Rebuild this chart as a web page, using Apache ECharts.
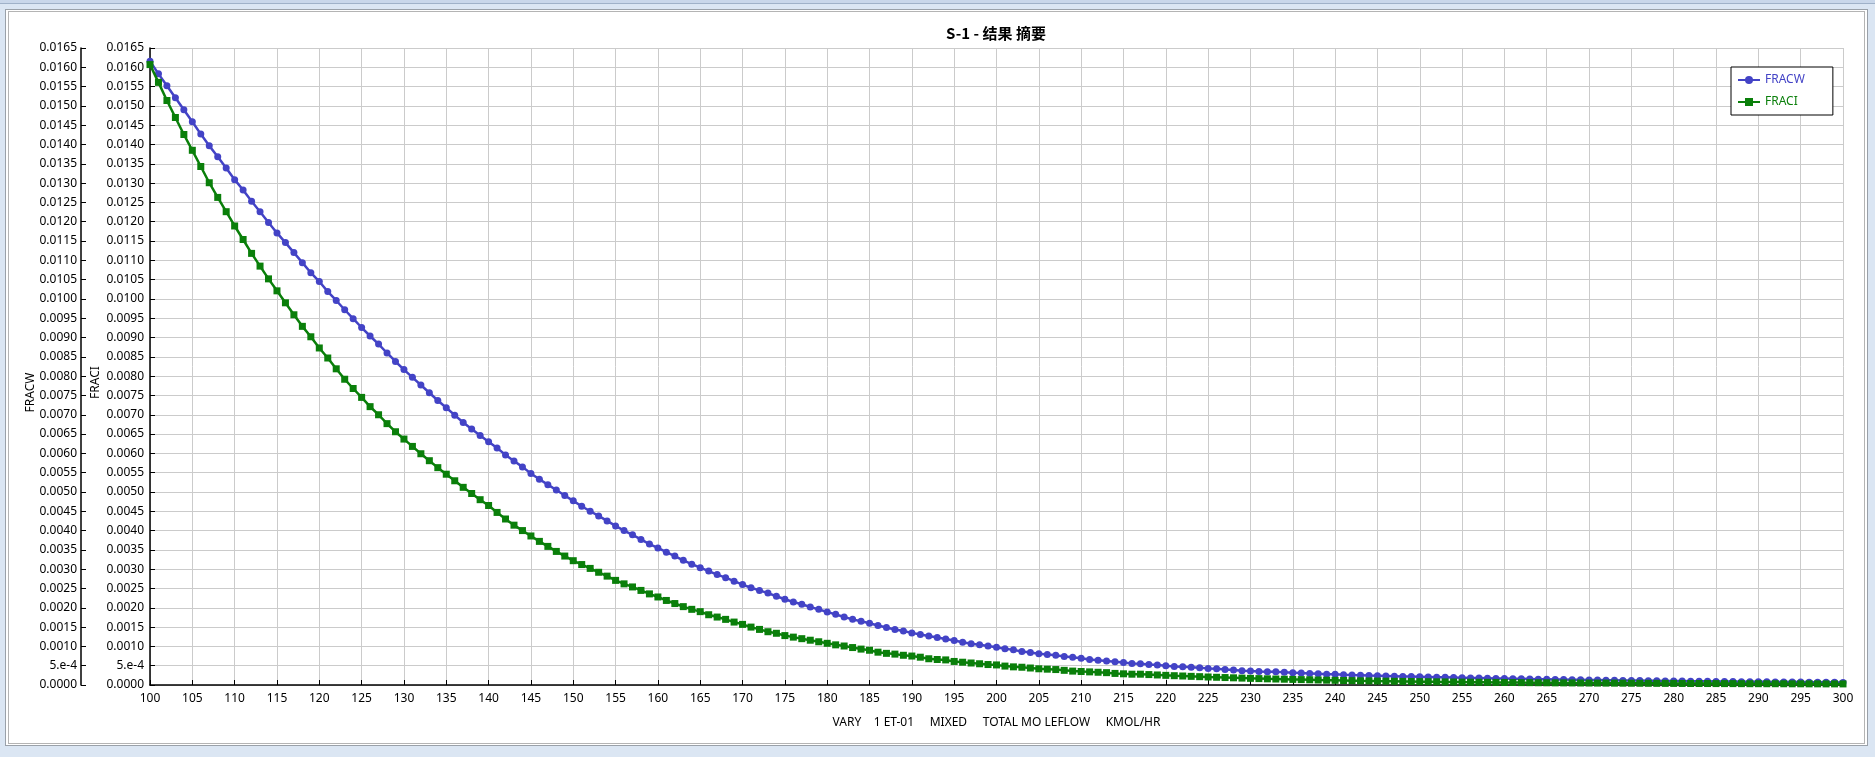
<!DOCTYPE html>
<html>
<head>
<meta charset="utf-8">
<script src="https://cdn.jsdelivr.net/npm/echarts@6/dist/echarts.min.js"></script>
<style>
html,body{margin:0;padding:0;width:1875px;height:757px;overflow:hidden;background:#dbe6f3;}
#topbar{position:absolute;left:0;top:0;width:1875px;height:3px;background:#c9d7ea;border-bottom:1px solid #9fb1c8;}
#frame{position:absolute;left:5px;top:9px;width:1861px;height:735px;border:1px solid #9aa1a9;background:#fff;}
#inner{position:absolute;left:8px;top:11px;width:1855px;height:731px;border:1px solid #b4b4b4;background:#fff;}
#chart{position:absolute;left:0;top:0;width:1875px;height:757px;}
</style>
</head>
<body>
<div id="topbar"></div>
<div id="frame"></div>
<div id="inner"></div>
<div id="chart"></div>
<script>
const xValues = Array.from({length: 201}, (_, i) => 100 + i);

const fracW = [
0.01616,0.01583,0.01552,0.01521,0.01490,0.01459,0.01427,0.01397,0.01368,0.01339,
0.01309,0.01282,0.01253,0.01226,0.01198,0.01171,0.01146,0.01120,0.01094,0.01068,
0.01045,0.01019,0.00996,0.00972,0.00949,0.00926,0.00904,0.00883,0.00860,0.00838,
0.00817,0.00797,0.00777,0.00757,0.00737,0.00718,0.00699,0.00680,0.00663,0.00646,
0.00630,0.00614,0.00596,0.00580,0.00565,0.00548,0.00533,0.00519,0.00505,0.00491,
0.00477,0.00463,0.00450,0.00438,0.00425,0.00412,0.00400,0.00389,0.00377,0.00365,
0.00355,0.00344,0.00334,0.00323,0.00313,0.00304,0.00295,0.00286,0.00278,0.00269,
0.00260,0.00252,0.00245,0.00238,0.00230,0.00222,0.00215,0.00209,0.00202,0.00196,
0.00189,0.00183,0.00176,0.00170,0.00165,0.00160,0.00154,0.00149,0.00144,0.00140,
0.00135,0.00131,0.00127,0.00123,0.00119,0.00115,0.00111,0.00107,0.00104,0.00101,
0.00098,0.00094,0.00091,0.00087,0.00084,0.00081,0.00079,0.00077,0.00074,0.00072,
0.00069,0.00066,0.00064,0.00062,0.00060,0.00058,0.00056,0.00055,0.00053,0.00052,
0.00050,0.00048,0.00047,0.00046,0.00045,0.00043,0.00042,0.00040,0.00039,0.00037,
0.00036,0.00035,0.00034,0.00034,0.00033,0.00032,0.00031,0.00030,0.00029,0.00028,
0.000276,0.000267,0.000260,0.000254,0.000247,0.000241,0.000235,0.000229,0.000223,0.000218,
0.000213,0.000208,0.000203,0.000198,0.000193,0.000188,0.000183,0.000179,0.000175,0.000171,
0.000167,0.000163,0.000159,0.000155,0.000151,0.000148,0.000144,0.000141,0.000137,0.000134,
0.000131,0.000128,0.000125,0.000122,0.000119,0.000116,0.000114,0.000111,0.000109,0.000106,
0.000104,0.000102,0.000099,0.000097,0.000095,0.000093,0.000091,0.000089,0.000087,0.000085,
0.000083,0.000081,0.000080,0.000078,0.000076,0.000075,0.000073,0.000072,0.000070,0.000069,
0.000067
];

const fracI = [
0.01607,0.01561,0.01514,0.01470,0.01426,0.01385,0.01343,0.01301,0.01263,0.01226,
0.01189,0.01154,0.01118,0.01085,0.01052,0.01021,0.00990,0.00959,0.00929,0.00902,
0.00873,0.00847,0.00819,0.00792,0.00768,0.00745,0.00721,0.00700,0.00677,0.00656,
0.00637,0.00618,0.00599,0.00581,0.00563,0.00546,0.00529,0.00512,0.00496,0.00480,
0.00465,0.00447,0.00430,0.00414,0.00400,0.00386,0.00372,0.00359,0.00346,0.00334,
0.00322,0.00312,0.00302,0.00292,0.00282,0.00271,0.00262,0.00254,0.00245,0.00236,
0.00228,0.00219,0.00211,0.00203,0.00196,0.00190,0.00182,0.00176,0.00170,0.00163,
0.00157,0.00150,0.00144,0.00138,0.00134,0.00128,0.00124,0.00120,0.00116,0.00112,
0.00108,0.00104,0.00101,0.00097,0.00093,0.00090,0.00085,0.00082,0.00080,0.00077,
0.00075,0.00072,0.00068,0.00066,0.00065,0.00061,0.00059,0.00057,0.00055,0.00053,
0.00052,0.00049,0.00047,0.00046,0.00044,0.00042,0.00041,0.00040,0.00038,0.00036,
0.00035,0.00034,0.00033,0.00032,0.00030,0.00029,0.00028,0.00028,0.00027,0.00026,
0.00025,0.000241,0.000233,0.000224,0.000216,0.000207,0.000200,0.000193,0.000186,0.000179,
0.000172,0.000166,0.000160,0.000155,0.000150,0.000145,0.000140,0.000135,0.000130,0.000125,
0.000121,0.000117,0.000113,0.000109,0.000106,0.000102,0.000099,0.000096,0.000093,0.000090,
0.000087,0.000085,0.000082,0.000080,0.000078,0.000075,0.000073,0.000071,0.000069,0.000067,
0.000066,0.000064,0.000062,0.000061,0.000059,0.000058,0.000056,0.000055,0.000054,0.000052,
0.000051,0.000050,0.000049,0.000048,0.000047,0.000046,0.000045,0.000044,0.000043,0.000042,
0.000041,0.000040,0.000039,0.000039,0.000038,0.000037,0.000036,0.000036,0.000035,0.000034,
0.000034,0.000033,0.000033,0.000032,0.000031,0.000031,0.000030,0.000030,0.000029,0.000029,
0.000028
];

const yTickLabels = ['0.0000','5.e-4','0.0010','0.0015','0.0020','0.0025','0.0030','0.0035','0.0040','0.0045',
'0.0050','0.0055','0.0060','0.0065','0.0070','0.0075','0.0080','0.0085','0.0090','0.0095',
'0.0100','0.0105','0.0110','0.0115','0.0120','0.0125','0.0130','0.0135','0.0140','0.0145',
'0.0150','0.0155','0.0160','0.0165'];

const titleText = 'S-1 - 结果 摘要';
const xAxisName = 'VARY    1 ET-01     MIXED     TOTAL MO LEFLOW     KMOL/HR';
const colorW = '#4343c6';
const colorI = '#0a7f0a';
const FONT = '"Noto Sans", "Noto Sans CJK SC", sans-serif';

const chart = echarts.init(document.getElementById('chart'), null, {renderer: 'canvas'});
const yFmt = v => yTickLabels[Math.round(v / 0.0005)] ?? '';

function yAxis(name, offset, nameGap, shiftDown, margin, split) {
  return {
    type: 'value', position: 'left', offset: offset,
    min: 0, max: 0.0165, interval: 0.0005,
    name: name, nameLocation: 'middle', nameGap: nameGap, nameRotate: 90,
    nameMoveOverlap: false,
    nameTextStyle: {color: '#000', fontSize: 12, fontFamily: FONT, padding: [0, shiftDown * 2, 0, 0]},
    axisLine: {show: true, onZero: false, lineStyle: {color: '#000', width: 1.5}},
    axisTick: {show: true, inside: true, length: 5, lineStyle: {color: '#000'}},
    axisLabel: {color: '#000', fontSize: 12, fontFamily: FONT, margin: margin, formatter: yFmt},
    splitLine: {show: split, lineStyle: {color: '#cbcbcb', width: 1}}
  };
}

chart.setOption({
  animation: false,
  backgroundColor: 'transparent',
  textStyle: {fontFamily: FONT},
  title: {
    text: titleText, left: 996, top: 26, textAlign: 'center', padding: 0,
    textStyle: {fontSize: 15, fontWeight: 'bold', color: '#000', fontFamily: '"Noto Sans CJK SC", "Noto Sans", sans-serif'}
  },
  grid: {left: 150, right: 32, top: 48, bottom: 72, containLabel: false},
  xAxis: {
    type: 'value', min: 100, max: 300, interval: 5,
    name: xAxisName, nameLocation: 'middle', nameGap: 32,
    nameTextStyle: {color: '#000', fontSize: 12, fontFamily: FONT},
    axisLine: {onZero: false, lineStyle: {color: '#000', width: 1.5}},
    axisTick: {inside: true, length: 5, lineStyle: {color: '#000'}},
    axisLabel: {color: '#000', fontSize: 12, fontFamily: FONT, margin: 8},
    splitLine: {show: true, lineStyle: {color: '#cbcbcb', width: 1}}
  },
  yAxis: [
    yAxis('FRACW', 69, 44, 26, 4, false),
    yAxis('FRACI', 0, 48, 16, 6, true)
  ],
  legend: {
    orient: 'vertical', left: 1731, top: 67,
    padding: [6, 28, 6, 6], itemGap: 8, itemWidth: 22, itemHeight: 10,
    borderColor: '#000', borderWidth: 1, backgroundColor: '#fff',
    textStyle: {fontSize: 12, fontFamily: FONT, lineHeight: 14},
    data: [
      {name: 'FRACW', textStyle: {color: colorW}},
      {name: 'FRACI', textStyle: {color: colorI}}
    ]
  },
  series: [
    {
      name: 'FRACW', type: 'line', yAxisIndex: 0,
      data: xValues.map((x, i) => [x, fracW[i]]),
      symbol: 'circle', symbolSize: 7, showAllSymbol: true,
      lineStyle: {color: colorW, width: 2.5},
      itemStyle: {color: colorW}, z: 2
    },
    {
      name: 'FRACI', type: 'line', yAxisIndex: 1,
      data: xValues.map((x, i) => [x, fracI[i]]),
      symbol: 'rect', symbolSize: 7, showAllSymbol: true,
      lineStyle: {color: colorI, width: 2.5},
      itemStyle: {color: colorI}, z: 3
    }
  ]
});
</script>
</body>
</html>
